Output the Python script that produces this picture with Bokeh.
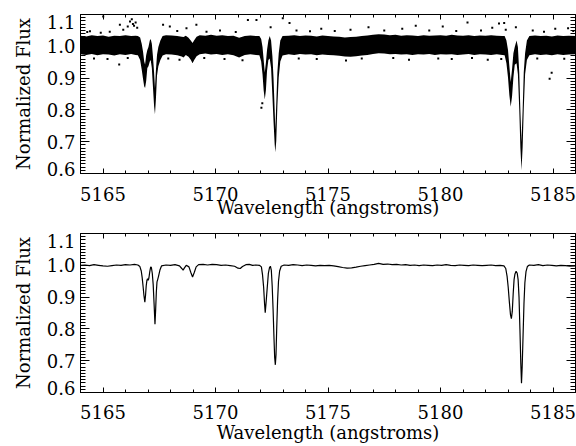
from bokeh.plotting import figure
from bokeh.layouts import column
from bokeh.models import (FixedTicker, LinearAxis, Range1d, PrintfTickFormatter,
                          CustomJSTickFormatter)
from bokeh.embed import file_html
from bokeh.resources import INLINE

FONT = "DejaVu Serif"
FS = "18px"

# ---------------- data ----------------
x_major = [5165, 5170, 5175, 5180, 5185]
y_major = [0.7, 0.8, 0.9, 1.0]
x_label = "Wavelength (angstroms)"
y_label = "Normalized Flux"

smooth_wave = [
    5164.00, 5164.20, 5164.40, 5164.60, 5164.80, 5165.00, 5165.20, 5165.40, 5165.60, 5165.80,
    5166.00, 5166.20, 5166.40, 5166.55, 5166.64, 5166.70, 5166.74, 5166.78, 5166.82, 5166.86,
    5166.89, 5166.92, 5166.95, 5166.98, 5167.01, 5167.04, 5167.08, 5167.12, 5167.15, 5167.19,
    5167.23, 5167.27, 5167.31, 5167.34, 5167.37, 5167.40, 5167.43, 5167.47, 5167.53, 5167.60,
    5167.80, 5168.00, 5168.20, 5168.40, 5168.50, 5168.56, 5168.62, 5168.70, 5168.82, 5168.90,
    5168.98, 5169.06, 5169.14, 5169.25, 5169.45, 5169.65, 5169.85, 5170.05, 5170.25, 5170.45,
    5170.65, 5170.85, 5171.00, 5171.10, 5171.20, 5171.35, 5171.50, 5171.65, 5171.80, 5171.95,
    5172.04, 5172.09, 5172.14, 5172.18, 5172.21, 5172.25, 5172.30, 5172.35, 5172.40, 5172.44,
    5172.48, 5172.52, 5172.56, 5172.60, 5172.63, 5172.66, 5172.69, 5172.72, 5172.76, 5172.80,
    5172.85, 5172.92, 5173.05, 5173.25, 5173.45, 5173.65, 5173.85, 5174.05, 5174.25, 5174.45,
    5174.65, 5174.85, 5175.05, 5175.25, 5175.45, 5175.65, 5175.85, 5176.05, 5176.25, 5176.45,
    5176.65, 5176.85, 5177.05, 5177.25, 5177.45, 5177.65, 5177.85, 5178.05, 5178.25, 5178.45,
    5178.65, 5178.85, 5179.05, 5179.25, 5179.45, 5179.65, 5179.85, 5180.05, 5180.25, 5180.45,
    5180.65, 5180.85, 5181.05, 5181.25, 5181.45, 5181.65, 5181.85, 5182.05, 5182.25, 5182.45,
    5182.65, 5182.82, 5182.90, 5182.96, 5183.01, 5183.06, 5183.11, 5183.15, 5183.19, 5183.23,
    5183.27, 5183.31, 5183.36, 5183.41, 5183.45, 5183.49, 5183.53, 5183.57, 5183.60, 5183.63,
    5183.67, 5183.71, 5183.75, 5183.80, 5183.86, 5183.95, 5184.15, 5184.35, 5184.55, 5184.75,
    5184.95, 5185.15, 5185.35, 5185.55, 5185.75, 5186.00,
]
smooth_flux = [
    1.000, 1.001, 0.999, 1.002, 1.000, 0.998, 0.997, 0.999, 1.001, 1.000,
    1.002, 1.001, 1.003, 1.001, 0.996, 0.982, 0.962, 0.935, 0.905, 0.884,
    0.905, 0.935, 0.952, 0.958, 0.953, 0.960, 0.980, 0.995, 0.993, 0.975,
    0.940, 0.880, 0.815, 0.860, 0.915, 0.948, 0.955, 0.966, 0.985, 0.998,
    1.001, 1.000, 1.002, 0.998, 0.990, 0.985, 0.992, 1.000, 0.995, 0.978,
    0.963, 0.978, 0.995, 1.002, 1.003, 1.001, 1.003, 1.002, 1.000, 1.001,
    0.999, 0.997, 0.991, 0.990, 0.996, 1.002, 1.003, 1.000, 1.001, 1.000,
    0.995, 0.970, 0.930, 0.880, 0.851, 0.885, 0.930, 0.975, 0.993, 0.997,
    0.985, 0.935, 0.860, 0.770, 0.710, 0.687, 0.720, 0.800, 0.890, 0.950,
    0.982, 0.997, 1.001, 1.000, 1.002, 1.001, 0.999, 1.001, 1.000, 0.998,
    1.000, 0.999, 1.000, 0.998, 0.996, 0.993, 0.991, 0.992, 0.994, 0.997,
    0.999, 1.001, 1.003, 1.006, 1.003, 1.004, 1.002, 1.003, 1.001, 1.002,
    1.000, 1.001, 0.999, 1.001, 1.000, 0.999, 1.001, 1.000, 1.002, 1.000,
    0.999, 1.001, 1.000, 0.999, 1.001, 1.000, 0.999, 1.000, 1.001, 0.999,
    1.000, 0.998, 0.990, 0.965, 0.930, 0.885, 0.845, 0.832, 0.855, 0.910,
    0.955, 0.973, 0.981, 0.975, 0.955, 0.900, 0.800, 0.690, 0.629, 0.680,
    0.780, 0.880, 0.945, 0.980, 0.996, 1.001, 1.000, 1.002, 0.999, 1.001,
    1.000, 0.998, 1.000, 0.999, 0.997, 0.998,
]

raw_wave = [
    5164.00, 5164.25, 5164.50, 5164.75, 5165.00, 5165.25, 5165.50, 5165.75, 5166.00, 5166.25,
    5166.45, 5166.55, 5166.65, 5166.72, 5166.78, 5166.83, 5166.87, 5166.92, 5166.97, 5167.02,
    5167.08, 5167.12, 5167.17, 5167.22, 5167.27, 5167.31, 5167.35, 5167.40, 5167.46, 5167.55,
    5167.65, 5167.80, 5168.05, 5168.30, 5168.50, 5168.58, 5168.68, 5168.80, 5168.90, 5168.98,
    5169.06, 5169.16, 5169.30, 5169.55, 5169.80, 5170.05, 5170.30, 5170.55, 5170.80, 5171.05,
    5171.30, 5171.55, 5171.80, 5171.95, 5172.03, 5172.09, 5172.14, 5172.19, 5172.24, 5172.29,
    5172.35, 5172.41, 5172.47, 5172.53, 5172.58, 5172.63, 5172.66, 5172.70, 5172.75, 5172.81,
    5172.88, 5172.98, 5173.25, 5173.50, 5173.75, 5174.00, 5174.25, 5174.50, 5174.75, 5175.00,
    5175.25, 5175.50, 5175.75, 5176.00, 5176.25, 5176.50, 5176.75, 5177.00, 5177.25, 5177.50,
    5177.75, 5178.00, 5178.25, 5178.50, 5178.75, 5179.00, 5179.25, 5179.50, 5179.75, 5180.00,
    5180.25, 5180.50, 5180.75, 5181.00, 5181.25, 5181.50, 5181.75, 5182.00, 5182.25, 5182.50,
    5182.75, 5182.85, 5182.93, 5183.00, 5183.06, 5183.12, 5183.18, 5183.24, 5183.30, 5183.38,
    5183.44, 5183.50, 5183.55, 5183.60, 5183.65, 5183.70, 5183.76, 5183.84, 5183.95, 5184.20,
    5184.45, 5184.70, 5184.95, 5185.20, 5185.45, 5185.70, 5186.00,
]
raw_hi = [
    1.033, 1.031, 1.035, 1.032, 1.034, 1.030, 1.033, 1.032, 1.035, 1.032,
    1.033, 1.032, 1.028, 1.008, 0.983, 0.953, 0.943, 0.973, 0.988, 0.998,
    1.018, 1.023, 1.008, 0.968, 0.918, 0.868, 0.923, 0.973, 0.998, 1.018,
    1.032, 1.035, 1.034, 1.032, 1.030, 1.029, 1.033, 1.027, 1.018, 1.010,
    1.020, 1.030, 1.035, 1.033, 1.036, 1.033, 1.035, 1.032, 1.033, 1.027,
    1.032, 1.034, 1.032, 1.032, 1.023, 0.998, 0.958, 0.918, 0.948, 0.988,
    1.018, 1.032, 1.018, 0.968, 0.898, 0.798, 0.738, 0.818, 0.918, 0.978,
    1.018, 1.032, 1.033, 1.035, 1.032, 1.034, 1.033, 1.031, 1.034, 1.032,
    1.031, 1.030, 1.028, 1.029, 1.030, 1.032, 1.034, 1.036, 1.038, 1.037,
    1.035, 1.036, 1.033, 1.035, 1.034, 1.032, 1.035, 1.033, 1.034, 1.035,
    1.033, 1.036, 1.034, 1.033, 1.035, 1.032, 1.034, 1.033, 1.035, 1.033,
    1.032, 1.032, 1.018, 0.988, 0.938, 0.888, 0.928, 0.978, 0.998, 1.018,
    0.998, 0.918, 0.798, 0.698, 0.798, 0.918, 0.978, 1.018, 1.032, 1.034,
    1.032, 1.033, 1.031, 1.034, 1.032, 1.033, 1.032,
]
raw_lo = [
    0.975, 0.973, 0.976, 0.972, 0.975, 0.974, 0.971, 0.975, 0.973, 0.976,
    0.973, 0.972, 0.957, 0.927, 0.897, 0.874, 0.869, 0.892, 0.932, 0.937,
    0.952, 0.957, 0.932, 0.872, 0.812, 0.786, 0.832, 0.907, 0.937, 0.957,
    0.971, 0.975, 0.974, 0.972, 0.968, 0.965, 0.973, 0.967, 0.958, 0.947,
    0.958, 0.969, 0.975, 0.977, 0.974, 0.976, 0.973, 0.975, 0.972, 0.965,
    0.973, 0.975, 0.973, 0.972, 0.952, 0.912, 0.862, 0.833, 0.862, 0.922,
    0.957, 0.962, 0.932, 0.842, 0.762, 0.692, 0.667, 0.702, 0.812, 0.902,
    0.952, 0.971, 0.975, 0.973, 0.976, 0.974, 0.975, 0.972, 0.974, 0.973,
    0.972, 0.970, 0.968, 0.967, 0.969, 0.971, 0.973, 0.976, 0.978, 0.977,
    0.975, 0.976, 0.974, 0.975, 0.973, 0.975, 0.974, 0.976, 0.973, 0.975,
    0.974, 0.975, 0.973, 0.974, 0.976, 0.973, 0.975, 0.974, 0.973, 0.975,
    0.973, 0.972, 0.947, 0.902, 0.847, 0.810, 0.842, 0.902, 0.942, 0.947,
    0.912, 0.802, 0.682, 0.610, 0.682, 0.802, 0.912, 0.957, 0.972, 0.975,
    0.973, 0.974, 0.972, 0.975, 0.973, 0.974, 0.975,
]

stray_wave = [
    5164.30, 5164.42, 5164.90, 5165.01, 5165.30, 5165.75, 5165.90, 5166.10, 5166.20, 5166.28,
    5166.33, 5166.38, 5166.45, 5166.52, 5167.67, 5167.97, 5168.30, 5168.71, 5169.15, 5169.60,
    5170.20, 5170.90, 5171.44, 5171.82, 5172.45, 5172.99, 5173.29, 5173.60, 5174.20, 5174.70,
    5175.30, 5176.00, 5176.80, 5177.50, 5178.30, 5178.90, 5179.50, 5180.10, 5180.70, 5181.20,
    5181.80, 5182.30, 5182.60, 5182.83, 5182.90, 5183.35, 5184.10, 5184.60, 5185.10, 5185.67,
    5185.90,
    5164.60, 5165.20, 5165.72, 5166.10, 5167.90, 5168.40, 5169.50, 5170.40, 5171.20, 5172.04,
    5172.08, 5173.70, 5174.50, 5175.80, 5176.50, 5177.90, 5178.60, 5179.90, 5180.50, 5181.40,
    5182.10, 5182.70, 5184.30, 5184.85, 5184.94, 5185.50,
]
stray_flux = [
    1.045, 1.047, 1.043, 1.094, 1.046, 1.068, 1.052, 1.062, 1.078, 1.085,
    1.070, 1.065, 1.075, 1.058, 1.068, 1.062, 1.048, 1.057, 1.068, 1.046,
    1.050, 1.045, 1.083, 1.083, 1.060, 1.088, 1.073, 1.050, 1.047, 1.055,
    1.048, 1.052, 1.060, 1.050, 1.055, 1.065, 1.050, 1.062, 1.048, 1.075,
    1.050, 1.058, 1.072, 1.073, 1.052, 1.060, 1.050, 1.046, 1.055, 1.057,
    1.048,
    0.962, 0.960, 0.943, 0.963, 0.962, 0.958, 0.963, 0.960, 0.956, 0.807,
    0.821, 0.962, 0.960, 0.955, 0.962, 0.963, 0.958, 0.962, 0.960, 0.963,
    0.958, 0.960, 0.962, 0.898, 0.917, 0.961,
]

X_RANGE = (5164, 5186)
Y_RANGE = (0.6, 1.1)
Y_LABEL_TICKS = [0.6, 0.7, 0.8, 0.9, 1.0, 1.1]

BLANK = "return ''"


def x_ticker():
    return FixedTicker(ticks=x_major, minor_ticks=list(range(5164, 5187)))


def y_ticker():
    return FixedTicker(ticks=y_major, minor_ticks=[round(0.6 + 0.01 * i, 2) for i in range(51)])


def tick_axis(ax, ticker, tick_in, minor_in):
    ax.ticker = ticker
    ax.major_tick_in = tick_in
    ax.major_tick_out = 0
    ax.minor_tick_in = minor_in
    ax.minor_tick_out = 0
    ax.major_tick_line_color = "black"
    ax.minor_tick_line_color = "black"


def label_style(ax, lab, standoff):
    ax.axis_label = lab
    ax.axis_label_text_font = FONT
    ax.axis_label_text_font_size = FS
    ax.axis_label_text_font_style = "normal"
    ax.axis_label_text_color = "black"
    ax.axis_label_standoff = standoff


def make_panel(border_top, frame_h, border_bottom, x_tick_standoff, x_label_standoff):
    p = figure(frame_width=495, frame_height=frame_h, output_backend="svg", toolbar_location=None,
               x_range=Range1d(*X_RANGE), y_range=Range1d(*Y_RANGE),
               min_border_left=80, min_border_right=1, min_border_top=border_top,
               min_border_bottom=border_bottom)
    p.grid.visible = False
    p.outline_line_color = "black"
    p.outline_line_width = 1
    p.background_fill_color = "white"
    p.border_fill_color = "white"

    xa = p.xaxis[0]
    tick_axis(xa, x_ticker(), 5, 3)
    xa.axis_line_color = "black"
    xa.major_label_text_font = FONT
    xa.major_label_text_font_size = FS
    xa.major_label_text_color = "black"
    xa.major_label_standoff = x_tick_standoff
    label_style(xa, x_label, x_label_standoff)

    ya = p.yaxis[0]
    tick_axis(ya, y_ticker(), 9, 5)
    ya.axis_line_color = "black"
    ya.formatter = CustomJSTickFormatter(code=BLANK)
    ya.major_label_standoff = 0

    frame_px = float(frame_h)
    span = Y_RANGE[1] - Y_RANGE[0]
    nudged = [Y_LABEL_TICKS[0] + 5 * span / frame_px] + Y_LABEL_TICKS[1:-1] + \
             [Y_LABEL_TICKS[-1] - 7 * span / frame_px]
    yl = LinearAxis(ticker=FixedTicker(ticks=nudged, minor_ticks=[]),
                    formatter=PrintfTickFormatter(format="%.1f"))
    yl.axis_line_color = None
    yl.major_tick_line_color = None
    yl.minor_tick_line_color = None
    yl.major_tick_in = 0
    yl.major_tick_out = 0
    yl.major_label_standoff = 5
    yl.major_label_text_font = FONT
    yl.major_label_text_font_size = FS
    yl.major_label_text_color = "black"
    label_style(yl, y_label, 10)
    p.add_layout(yl, "left")

    top = LinearAxis(formatter=CustomJSTickFormatter(code=BLANK))
    tick_axis(top, x_ticker(), 5, 3)
    top.axis_line_color = None
    top.major_label_standoff = 0
    p.add_layout(top, "above")

    right = LinearAxis(formatter=CustomJSTickFormatter(code=BLANK))
    tick_axis(right, y_ticker(), 9, 5)
    right.axis_line_color = None
    right.major_label_standoff = 0
    p.add_layout(right, "right")
    return p


p1 = make_panel(14, 159, 48, 13, -7)
p1.varea(x=raw_wave, y1=raw_lo, y2=raw_hi, fill_color="black", fill_alpha=1.0)
p1.scatter(stray_wave, stray_flux, marker="square", size=2, color="black", line_width=0)

p2 = make_panel(12, 159, 54, 12, 0)
p2.line(smooth_wave, smooth_flux, line_color="black", line_width=1.2)

layout = column(p1, p2, spacing=0)
open("out.html", "w").write(file_html(layout, INLINE))
